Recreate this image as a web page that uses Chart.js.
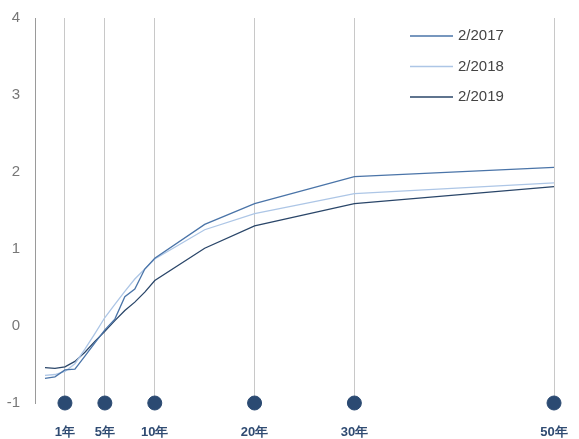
<!DOCTYPE html>
<html>
<head>
<meta charset="utf-8">
<script src="https://cdn.jsdelivr.net/npm/chart.js@4"></script>
<style>
  html, body { margin: 0; padding: 0; background: #fff; }
  #wrap { width: 579px; height: 439px; }
</style>
</head>
<body>
<div id="wrap"><canvas id="myChart"></canvas></div>
<script>
// years to maturity
const maturities = [-1, 0, 1, 2, 3, 4, 5, 6, 7, 8, 9, 10, 15, 20, 30, 50]
const y2017 = [-0.68, -0.66, -0.57, -0.56, -0.39, -0.22, -0.05, 0.09, 0.38, 0.48, 0.74, 0.88, 1.32, 1.59, 1.94, 2.06]
const y2018 = [-0.64, -0.63, -0.59, -0.49, -0.30, -0.10, 0.11, 0.28, 0.45, 0.61, 0.74, 0.87, 1.25, 1.46, 1.72, 1.86]
const y2019 = [-0.54, -0.55, -0.53, -0.46, -0.34, -0.20, -0.07, 0.07, 0.20, 0.31, 0.44, 0.59, 1.01, 1.30, 1.59, 1.81]
const seriesNames = ['2/2017', '2/2018', '2/2019']
const seriesColors = ['#4a74a8', '#adc6e6', '#2a4669']

const dotYears = [1, 5, 10, 20, 30, 50]
const dotLabels = ['1年', '5年', '10年', '20年', '30年', '50年']

const toPoints = (vals) => maturities.map((m, i) => ({ x: m, y: vals[i] }))

const lineSet = (i, vals) => ({
    type: 'line',
    label: seriesNames[i],
    data: toPoints(vals),
    borderColor: seriesColors[i],
    backgroundColor: seriesColors[i],
    borderWidth: 1.3,
    pointRadius: 0,
    tension: 0
})

// legend drawn inside the plot, top right
const insideLegend = {
    id: 'insideLegend',
    afterDraw(chart) {
        const c = chart.ctx
        c.save()
        c.font = '15px "Liberation Sans", Arial, sans-serif'
        c.textBaseline = 'middle'
        for (let i = 0; i < seriesNames.length; i++) {
            const y = 36 + i * 30.5
            c.strokeStyle = seriesColors[i]
            c.lineWidth = 1.3
            c.beginPath()
            c.moveTo(410, y)
            c.lineTo(453, y)
            c.stroke()
            c.fillStyle = '#444'
            c.fillText(seriesNames[i], 458, y)
        }
        c.restore()
    }
}

var ctx = document.getElementById('myChart')
var myChart = new Chart(ctx, {
    data: {
        datasets: [
            lineSet(0, y2017),
            lineSet(1, y2018),
            lineSet(2, y2019),
            {
                type: 'scatter',
                label: 'dots',
                data: dotYears.map(v => ({ x: v, y: -1 })),
                backgroundColor: '#2b4a72',
                borderColor: '#2b4a72',
                pointRadius: 7,
                pointHoverRadius: 7,
                clip: false
            }
        ]
    },
    options: {
        responsive: true,
        maintainAspectRatio: false,
        animation: false,
        layout: { padding: { top: 18, right: 25, left: 0, bottom: 0 } },
        plugins: {
            legend: { display: false },
            tooltip: { enabled: false }
        },
        scales: {
            x: {
                type: 'linear',
                min: -2,
                max: 50,
                afterBuildTicks: (axis) => { axis.ticks = dotYears.map(v => ({ value: v })) },
                afterFit: (axis) => {
                    axis.height = 36
                    axis.paddingLeft = 0
                    axis.paddingRight = 0
                },
                grid: { color: '#c8c8c8', lineWidth: 1, drawTicks: false },
                border: { display: false },
                ticks: {
                    padding: 22,
                    autoSkip: false,
                    maxRotation: 0,
                    color: '#2f4b72',
                    font: { size: 13, weight: 'bold', family: '"Liberation Sans", Arial, sans-serif' },
                    callback: (v) => dotLabels[dotYears.indexOf(v)]
                }
            },
            y: {
                min: -1,
                max: 4,
                afterFit: (axis) => {
                    axis.width = 35
                    axis.paddingTop = 0
                    axis.paddingBottom = 0
                },
                grid: { display: false, drawTicks: false },
                border: { display: true, color: '#9a9a9a', width: 1 },
                ticks: {
                    stepSize: 1,
                    padding: 15,
                    color: '#777',
                    font: { size: 15, family: '"Liberation Sans", Arial, sans-serif' }
                }
            }
        }
    },
    plugins: [insideLegend]
})
</script>
</body>
</html>
